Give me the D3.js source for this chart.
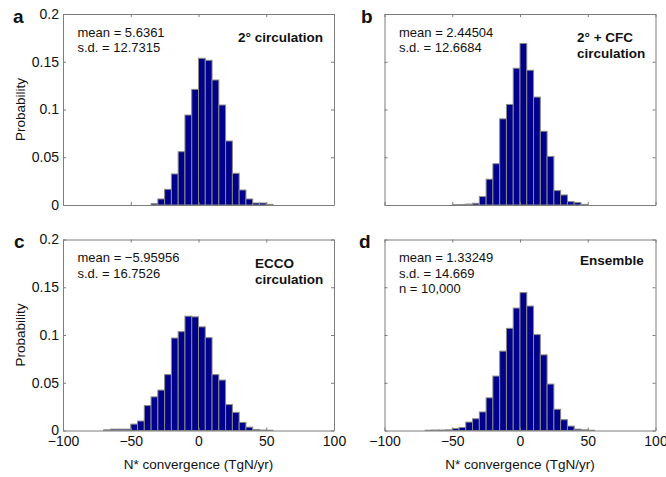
<!DOCTYPE html>
<html>
<head>
<meta charset="utf-8">
<script src="https://cdn.jsdelivr.net/npm/d3@7"></script>
<style>
  body { margin: 0; background: #fff; }
  svg { display: block; font-family: "Liberation Sans", Arial, Helvetica, sans-serif; }
  .axis path, .axis line { stroke: #7d7d7d; }
  .axis text { font-size: 14px; fill: #111; font-family: "Liberation Sans", Arial, sans-serif; }
</style>
</head>
<body>
<div id="chart"></div>
<script>
// left edge of each 5 TgN/yr bin
var bins = [-70,-65,-60,-55,-50,-45,-40,-35,-30,-25,-20,-15,-10,-5,0,5,10,15,20,25,30,35,40,45,50];
var binWidth = 5;

var probA = [0,0,0,0,0,0,0,0.0014,0.0063,0.0164,0.0325,0.0558,0.0942,0.1211,0.1536,0.1515,0.1309,0.1047,0.0670,0.0332,0.0157,0.0063,0.0021,0.0021,0.0007];
var probB = [0,0,0,0,0.0003,0.0005,0.0010,0.0018,0.0088,0.0270,0.0432,0.0902,0.1053,0.1432,0.1691,0.1411,0.1130,0.0772,0.0509,0.0151,0.0105,0.0035,0.0025,0.0007,0];
var probC = [0.0007,0.0014,0.0014,0.0014,0.0067,0.0099,0.0261,0.0352,0.0423,0.0585,0.0968,0.1035,0.1197,0.1190,0.1085,0.0972,0.0585,0.0528,0.0271,0.0190,0.0085,0.0035,0.0011,0.0005,0.0003];
var probD = [0.0003,0.0005,0.0005,0.0007,0.0021,0.0032,0.0088,0.0123,0.0194,0.0342,0.0570,0.0831,0.1070,0.1282,0.1444,0.1303,0.1004,0.0792,0.0486,0.0222,0.0113,0.0046,0.0014,0.0007,0.0003];

var xTicks = [-100,-50,0,50,100];
var yTicks = [0,0.05,0.1,0.15,0.2];
var yTickLabels = ["0","0.05","0.1","0.15","0.2"];

var panelLetters = ["a","b","c","d"];
var statsA = ["mean = 5.6361","s.d. = 12.7315"];
var statsB = ["mean = 2.44504","s.d. = 12.6684"];
var statsC = ["mean = \u22125.95956","s.d. = 16.7526"];
var statsD = ["mean = 1.33249","s.d. = 14.669","n = 10,000"];
var titleA = ["2\u00b0 circulation"];
var titleB = ["2\u00b0 + CFC","circulation"];
var titleC = ["ECCO","circulation"];
var titleD = ["Ensemble"];

var xLabel = "N* convergence (TgN/yr)";
var yLabel = "Probability";

var width = 666, height = 477;
var W = 271, H = 191;

var svg = d3.select("#chart").append("svg").attr("width", width).attr("height", height);

var panels = [
  {x0: 63,    y0: 14,  values: probA, stats: statsA, title: titleA, tx: 238, ty: 42,  yl: true,  xl: false, letter: panelLetters[0], lx: 13,  ly: 23},
  {x0: 384.5, y0: 14,  values: probB, stats: statsB, title: titleB, tx: 577, ty: 42,  yl: false, xl: false, letter: panelLetters[1], lx: 361, ly: 23},
  {x0: 63,    y0: 239.5, values: probC, stats: statsC, title: titleC, tx: 255, ty: 268, yl: true,  xl: true,  letter: panelLetters[2], lx: 14,  ly: 248},
  {x0: 384.5, y0: 239.5, values: probD, stats: statsD, title: titleD, tx: 580, ty: 265, yl: false, xl: true,  letter: panelLetters[3], lx: 359, ly: 248}
];

panels.forEach(function(p){
  var g = svg.append("g");
  var x = d3.scaleLinear().domain([-100,100]).range([p.x0, p.x0 + W]);
  var y = d3.scaleLinear().domain([0,0.2]).range([p.y0 + H, p.y0]);

  var data = bins.map(function(b, i){ return {b: b, v: p.values[i]}; }).filter(function(d){ return d.v > 0; });

  g.selectAll("rect").data(data).enter().append("rect")
    .attr("x", function(d){ return x(d.b); })
    .attr("width", function(d){ return x(d.b + binWidth) - x(d.b); })
    .attr("y", function(d){ return y(d.v); })
    .attr("height", function(d){ return y(0) - y(d.v); })
    .attr("fill", "#00008c")
    .attr("stroke", "#8a8a86")
    .attr("stroke-width", 1);

  // box with inward ticks on all sides
  g.append("g").attr("class","axis").attr("transform","translate(0," + (p.y0 + H) + ")")
    .call(d3.axisBottom(x).tickValues(xTicks).tickSize(-3).tickSizeOuter(0).tickPadding(6)
      .tickFormat(p.xl ? d3.format("d") : ""));
  g.append("g").attr("class","axis").attr("transform","translate(0," + p.y0 + ")")
    .call(d3.axisTop(x).tickValues(xTicks).tickSize(-3).tickSizeOuter(0).tickFormat(""));
  g.append("g").attr("class","axis").attr("transform","translate(" + p.x0 + ",0)")
    .call(d3.axisLeft(y).tickValues(yTicks).tickSize(-3).tickSizeOuter(0).tickPadding(4)
      .tickFormat(function(d, i){ return p.yl ? yTickLabels[i] : ""; }));
  g.append("g").attr("class","axis").attr("transform","translate(" + (p.x0 + W) + ",0)")
    .call(d3.axisRight(y).tickValues(yTicks).tickSize(-3).tickSizeOuter(0).tickFormat(""));

  g.selectAll(".axis .domain").attr("stroke", "#858585");
  g.selectAll(".axis text").attr("font-family", null);

  // stats
  g.selectAll("text.stat").data(p.stats).enter().append("text")
    .attr("class","stat")
    .attr("x", p.x0 + 14.5)
    .attr("y", function(d, i){ return p.y0 + 22.5 + i * 15.5; })
    .attr("font-size", 13)
    .attr("fill", "#111")
    .text(function(d){ return d; });

  g.selectAll("text.title").data(p.title).enter().append("text")
    .attr("class","title")
    .attr("x", p.tx)
    .attr("y", function(d, i){ return p.ty + i * 16; })
    .attr("font-size", 13.5)
    .attr("font-weight", "bold")
    .attr("fill", "#111")
    .text(function(d){ return d; });

  g.append("text")
    .attr("x", p.lx).attr("y", p.ly)
    .attr("font-size", 19).attr("font-weight","bold").attr("fill","#111")
    .text(p.letter);

  if (p.yl) {
    g.append("text")
      .attr("transform", "translate(25," + (p.y0 + H / 2) + ") rotate(-90)")
      .attr("text-anchor","middle")
      .attr("font-size", 13.5).attr("fill","#111")
      .text(yLabel);
  }
  if (p.xl) {
    g.append("text")
      .attr("x", p.x0 + W / 2).attr("y", 469)
      .attr("text-anchor","middle")
      .attr("font-size", 13.5).attr("fill","#111")
      .text(xLabel);
  }
});
</script>
</body>
</html>
